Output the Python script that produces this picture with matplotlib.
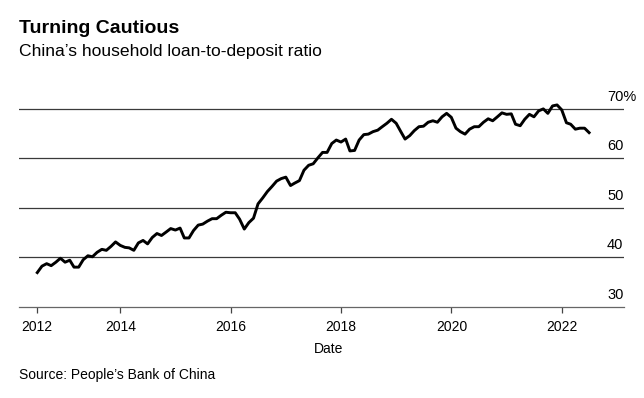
import datetime as dt

import matplotlib as mpl
import matplotlib.pyplot as plt
import pandas as pd

mpl.use("Agg")

plt.rcParams.update({"font.family": ["Liberation Sans", "DejaVu Sans"]})
plt.rcParams.update({"font.size": 10})

# monthly household loan-to-deposit ratio (%), month-end, from Jun 2012
start_date = "2012-06-30"
ratio = [
    36.9, 38.2, 38.7, 38.3, 39.0, 39.8, 39.0, 39.4, 38.0, 38.0, 39.5, 40.3,
    40.1, 41.0, 41.6, 41.4, 42.2, 43.1, 42.4, 42.0, 41.9, 41.4, 42.9, 43.4,
    42.7, 44.0, 44.8, 44.4, 45.1, 45.8, 45.5, 45.9, 43.9, 43.9, 45.4, 46.5,
    46.7, 47.3, 47.8, 47.8, 48.5, 49.1, 49.0, 49.0, 47.7, 45.7, 47.0, 47.9,
    50.8, 52.0, 53.3, 54.3, 55.4, 55.9, 56.2, 54.5, 55.0, 55.5, 57.6, 58.6,
    58.9, 60.1, 61.2, 61.2, 63.0, 63.7, 63.3, 63.9, 61.5, 61.6, 63.7, 64.8,
    64.9, 65.4, 65.7, 66.4, 67.1, 67.9, 67.1, 65.4, 63.9, 64.6, 65.6, 66.4,
    66.5, 67.3, 67.6, 67.3, 68.4, 69.1, 68.3, 66.1, 65.4, 64.9, 65.9, 66.4,
    66.4, 67.3, 68.0, 67.6, 68.4, 69.2, 68.9, 69.0, 66.9, 66.6, 67.9, 68.9,
    68.4, 69.6, 70.0, 69.1, 70.6, 70.8, 69.8, 67.2, 66.9, 65.9, 66.1, 66.1,
    65.2,
]
dates = pd.date_range(start_date, periods=len(ratio), freq="ME")

y_levels = [30, 40, 50, 60, 70]
y_labels = ["30", "40", "50", "60", "70%"]
x_ticks = [dt.datetime(2012, 6, 30)] + [dt.datetime(y, 1, 1) for y in range(2014, 2023, 2)]
x_labels = ["2012", "2014", "2016", "2018", "2020", "2022"]

fig = plt.figure(figsize=(6.44, 3.98), dpi=100)
ax = fig.add_axes([19 / 644, 91.3 / 398, 605 / 644, 206.7 / 398])

for lvl in y_levels[1:]:
    ax.axhline(lvl, color="#3a3a3a", lw=0.9, zorder=1)

ax.plot(dates, ratio, color="black", lw=2.1, solid_joinstyle="round", zorder=3)

ax.set_xlim(dt.datetime(2012, 3, 1), dt.datetime(2023, 2, 16))
ax.set_ylim(30, 71.8)

for s in ["top", "right", "left"]:
    ax.spines[s].set_visible(False)
ax.spines["bottom"].set_color("#666666")
ax.spines["bottom"].set_linewidth(0.9)

ax.set_yticks([])
ax.set_xticks(x_ticks, labels=x_labels)
ax.tick_params(axis="x", length=4.3, width=0.9, color="#444444", pad=5, labelsize=10)

for lvl, lab in zip(y_levels, y_labels):
    ax.text(0.972, lvl + 1.6, lab, transform=ax.get_yaxis_transform(),
            ha="left", va="baseline", fontsize=10.5)

fig.text(329 / 644, 1 - 349 / 398, "Date", ha="center", va="center", fontsize=10)

fig.text(19 / 644, 1 - 33 / 398, "Turning Cautious", fontsize=14,
         fontweight="bold", ha="left", va="baseline")
fig.text(19 / 644, 1 - 56 / 398, "China\u2019s household loan-to-deposit ratio",
         fontsize=12.6, ha="left", va="baseline")
fig.text(19 / 644, 1 - 379 / 398, "Source: People\u2019s Bank of China",
         fontsize=10, ha="left", va="baseline")

plt.savefig("out.png", dpi=100)
